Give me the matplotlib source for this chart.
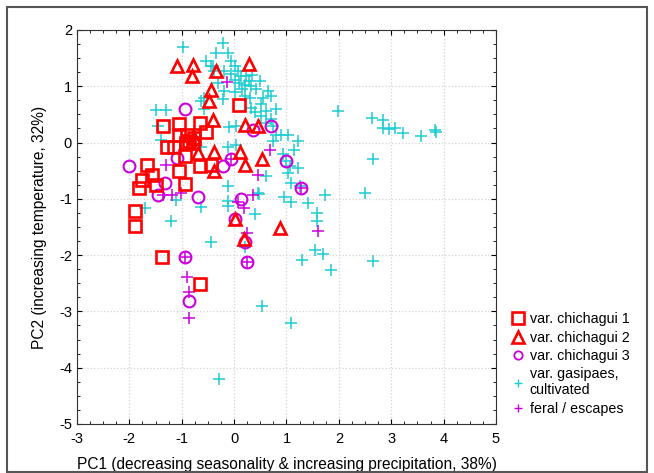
import matplotlib
matplotlib.use('Agg')
import matplotlib.pyplot as plt
from matplotlib.lines import Line2D
from matplotlib.patches import Rectangle
from matplotlib.ticker import AutoMinorLocator, MultipleLocator

plt.rcParams['font.family'] = ['Liberation Sans', 'DejaVu Sans']
plt.rcParams['axes.unicode_minus'] = False

# var. chichagui 1 (squares)
sq_x = [0.10, -1.36, -1.06, -0.65, -0.54, -0.90, -1.06, -0.87, -0.76, -0.79, -1.29, -1.14,
        -0.93, -0.66, -0.44, -1.67, -1.06, -1.57, -1.75, -1.49, -0.93, -1.82, -1.89, -1.89,
        -1.38, -0.66, -0.92]
sq_y = [0.67, 0.29, 0.33, 0.35, 0.19, 0.14, 0.14, 0.02, 0.08, -0.01, -0.08, -0.07,
        -0.24, -0.42, -0.39, -0.40, -0.51, -0.57, -0.66, -0.76, -0.73, -0.81, -1.21, -1.48,
        -2.04, -2.51, -0.01]

# var. chichagui 2 (triangles)
tri_x = [-1.09, -0.78, -0.80, -0.34, 0.29, -0.44, -0.48, -0.41, 0.21, 0.46, -0.76, -0.69,
         -0.39, 0.12, 0.53, 0.20, -0.39, 0.02, 0.18, 0.87]
tri_y = [1.36, 1.38, 1.18, 1.27, 1.40, 0.93, 0.74, 0.40, 0.32, 0.30, 0.08, -0.18,
         -0.17, -0.17, -0.29, -0.40, -0.51, -1.36, -1.71, -1.52]

# var. chichagui 3 (circles)
circ_x = [-0.94, -2.00, -1.09, -1.32, -1.46, -0.22, -0.06, -0.69, 0.14, 0.71, 0.36, 1.00,
          1.27, 0.02, 0.20, -0.94, 0.25, -0.87]
circ_y = [0.60, -0.42, -0.27, -0.72, -0.93, -0.42, -0.29, -0.96, -1.01, 0.30, 0.23, -0.33,
          -0.81, -1.35, -1.76, -2.04, -2.12, -2.82]

# var. gasipaes, cultivated
cult_x = [-0.98, -0.22, -0.12, -0.06, 0.01, 0.07, 0.13, 0.23, 0.29, -0.54, -0.41, -0.19,
          -0.06, 0.01, 0.10, 0.20, 0.32, -0.19, -0.22, 0.01, 0.20, 0.42, 0.64, 0.71,
          0.80, 0.33, 0.52, 0.61, 0.52, 0.71, 0.74, 0.80, 0.90, 1.03, 0.74, 1.22,
          1.15, 0.93, 1.06, 1.22, 1.03, 1.09, 1.25, 1.74, 0.96, -0.09, 0.04, -0.12,
          0.04, -0.12, 0.45, 1.98, -0.57, -0.57, 0.61, -1.49, -1.30, -1.46, -1.40, -0.63,
          -0.63, -1.71, -1.20, -1.11, -0.63, -0.11, -0.11, 0.47, 0.39, 0.20, -0.44, 0.53,
          1.09, 1.09, 1.41, 1.30, 2.50, 1.59, 1.59, 1.54, 1.70, 1.85, 2.65, 2.63,
          2.84, 2.84, 2.95, 3.08, 3.23, 3.56, 3.83, 3.86, 2.65, -0.29, 1.00, 0.60,
          0.40, 0.55, 0.30, 0.15, -0.30, 0.50, 0.35, -0.35, -0.38, -0.44]
cult_y = [1.70, 1.77, 1.60, 1.45, 1.36, 1.27, 1.18, 1.18, 1.09, 1.45, 1.36, 1.27,
          1.21, 1.12, 1.06, 1.03, 1.00, 0.92, 0.77, 0.89, 0.83, 0.95, 0.92, 0.83,
          0.59, 0.62, 0.68, 0.56, 0.47, 0.41, 0.29, 0.14, 0.14, 0.14, 0.02, 0.02,
          -0.13, -0.21, -0.42, -0.45, -0.54, -0.72, -0.77, -0.93, -0.96, 0.27, 0.29, -0.07,
          -0.04, -0.78, -0.90, 0.56, 0.80, 0.59, -0.60, 0.58, 0.58, 0.29, 0.05, 0.74,
          -0.07, -1.17, -1.40, -1.02, -1.14, -1.03, -1.12, -0.91, -1.27, -1.85, -1.76, -2.91,
          -3.21, -1.05, -1.08, -2.08, -0.90, -1.26, -1.39, -1.91, -1.98, -2.26, -2.11, 0.44,
          0.40, 0.25, 0.24, 0.25, 0.17, 0.11, 0.23, 0.18, -0.30, -4.20, -0.33, 0.35,
          0.55, 0.80, 0.80, 0.95, 1.05, 1.10, 1.20, 1.60, 1.27, 1.36]

# feral / escapes
feral_x = [-0.13, -1.30, -1.36, -1.19, -1.01, 0.68, 0.45, 0.36, 0.19, 0.25, -0.90, -0.87,
           -0.87, 1.61, -0.06, 1.27, -0.94, 0.25, 0.07]
feral_y = [1.08, -0.40, -0.93, -0.93, -0.90, -0.14, -0.57, -0.93, -1.17, -1.61, -2.38, -2.66,
           -3.11, -1.57, -0.29, -0.81, -2.04, -2.12, -1.05]

red = '#ff0000'
mag = '#cc00dd'
cyan = '#1ecdd2'

fig = plt.figure(figsize=(6.54, 4.73), dpi=100)
ax = fig.add_axes([0.1177, 0.1036, 0.6407, 0.833])

ax.plot(cult_x, cult_y, ls='none', marker='+', ms=8.5, mew=1.1, color=cyan)
ax.plot(feral_x, feral_y, ls='none', marker='+', ms=8.5, mew=1.1, color=mag)
ax.plot(circ_x, circ_y, ls='none', marker='o', ms=8.5, mew=1.5, mfc='none', color=mag)
ax.plot(sq_x, sq_y, ls='none', marker='s', ms=9, mew=1.9, mfc='none', color=red)
ax.plot(tri_x, tri_y, ls='none', marker='^', ms=9, mew=1.9, mfc='none', color=red)

ax.set_xlim(-3, 5)
ax.set_ylim(-5, 2)
ax.xaxis.set_major_locator(MultipleLocator(1))
ax.yaxis.set_major_locator(MultipleLocator(1))
ax.xaxis.set_minor_locator(AutoMinorLocator(4))
ax.yaxis.set_minor_locator(AutoMinorLocator(4))
ax.tick_params(which='both', direction='in', top=True, right=True, labelsize=10.5)
ax.tick_params(which='major', length=3.5)
ax.tick_params(which='minor', length=2.5)
ax.tick_params(axis='x', pad=6)
ax.grid(True, which='major', color='#d4d4d4', ls=':', lw=0.9)
ax.set_axisbelow(True)
for s in ax.spines.values():
    s.set_color('#333333')

ax.set_xlabel('PC1 (decreasing seasonality & increasing precipitation, 38%)', fontsize=11.2, labelpad=8)
ax.set_ylabel('PC2 (increasing temperature, 32%)', fontsize=11.2, labelpad=9)

handles = [
    Line2D([], [], ls='none', marker='s', ms=9, mew=1.9, mfc='none', color=red),
    Line2D([], [], ls='none', marker='^', ms=9, mew=1.9, mfc='none', color=red),
    Line2D([], [], ls='none', marker='o', ms=6, mew=1.3, mfc='none', color=mag),
    Line2D([], [], ls='none', marker='+', ms=6, mew=1, color=cyan),
    Line2D([], [], ls='none', marker='+', ms=6, mew=1, color=mag),
]
labels = ['var. chichagui 1', 'var. chichagui 2', 'var. chichagui 3',
          'var. gasipaes,\ncultivated', 'feral / escapes']
fig.legend(handles, labels, loc='upper left', bbox_to_anchor=(0.775, 0.352),
           frameon=False, fontsize=10.3, handlelength=0.7, handletextpad=0.5,
           labelspacing=0.3, borderaxespad=0)

fig.patches.append(Rectangle((0.011, 0.003), 0.978, 0.982, transform=fig.transFigure,
                             fill=False, ec='#555555', lw=1.5))

plt.savefig('out.png', dpi=100)
